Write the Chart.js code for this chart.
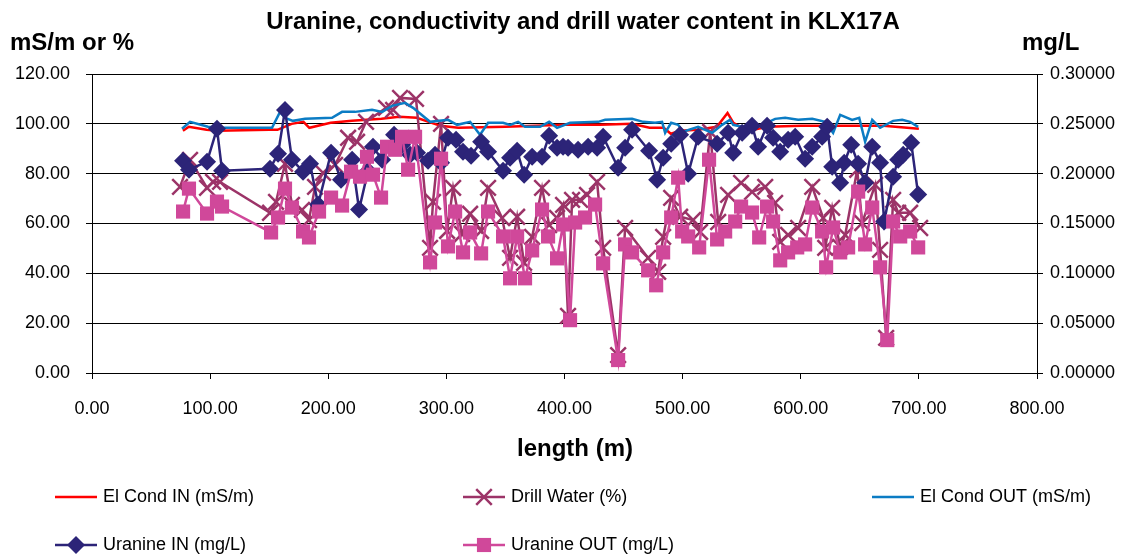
<!DOCTYPE html>
<html>
<head>
<meta charset="utf-8">
<title>Uranine, conductivity and drill water content in KLX17A</title>
<script src="https://cdn.jsdelivr.net/npm/chart.js@4.4.1/dist/chart.umd.min.js"></script>
<style>
    html, body { margin: 0; padding: 0; background: #fff; }
    #wrap { position: relative; width: 1127px; height: 556px; }
</style>
</head>
<body>
<div id="wrap"><canvas id="chart" width="1127" height="556"></canvas></div>
<script>
// ---------------- data ----------------
const chartTitle = 'Uranine, conductivity and drill water content in KLX17A';
const leftUnit = 'mS/m or %';
const rightUnit = 'mg/L';
const xTitle = 'length (m)';

const xTicks = [0, 100, 200, 300, 400, 500, 600, 700, 800];
const leftTicks = [0, 20, 40, 60, 80, 100, 120];
const rightTicks = [0, 0.05, 0.1, 0.15, 0.2, 0.25, 0.3];

// El Cond IN (mS/m)
const condInLen = [77, 82, 97, 106, 150, 157, 169, 179, 184, 202, 220, 245, 260, 275, 285, 295, 310, 350, 400, 430, 457, 472, 484, 490, 498, 513, 529, 538, 543, 550, 560, 572, 600, 640, 670, 700];
const condInVal = [97.2, 98.8, 97.6, 97.2, 97.6, 97.6, 100, 100.8, 98.4, 100.4, 101.2, 102, 102.8, 102.4, 100.8, 99.2, 98.4, 98.8, 99.6, 99.6, 100, 98.4, 98.4, 96, 97.2, 97.6, 98.8, 104.4, 100.4, 98.4, 97.6, 98.8, 99.2, 99.2, 99.2, 98];

// Drill Water (%)
const drillLen = [74.5, 83, 97.4, 102.5, 108.4, 150.7, 155.8, 163.4, 169.3, 177.8, 183.7, 188.8, 195.6, 205.8, 216.8, 224.4, 232, 248.9, 254.9, 260.8, 274.3, 286.2, 288.7, 295.5, 300.6, 305.7, 313.3, 320.1, 329.4, 335.3, 347.2, 353.9, 359.9, 365.8, 372.6, 381, 387, 393.7, 398.8, 403, 406.4, 413.2, 419.1, 427.6, 432.7, 445.4, 451.3, 470.8, 479.3, 483.5, 490.3, 497.9, 508.9, 514.8, 523.3, 530.1, 538.5, 549.5, 558.8, 569.9, 578.3, 582.6, 589.3, 597.8, 609.7, 619, 620.7, 626.6, 633.4, 637.6, 647.8, 652, 663, 667.2, 672.3, 678.2, 682.5, 692.6, 701.1];
const drillVal = [74.7, 85.5, 74.3, 76.7, 76.7, 64.3, 68.7, 83.9, 67.5, 65.5, 61.4, 74.7, 80.3, 83.5, 94.4, 92.8, 100.8, 106.4, 105.6, 110.4, 110, 50.2, 68.7, 100, 57, 74.3, 55.8, 63.9, 57, 74.3, 62.2, 46.2, 62.7, 44.2, 54.6, 74.3, 59.4, 62.2, 67.5, 22.9, 69.5, 69.5, 71.5, 76.7, 50.2, 7.2, 58.2, 46.2, 40.6, 54.6, 70.3, 62.7, 61.4, 56.6, 96.8, 60.6, 71.5, 76.3, 72.7, 74.7, 68.3, 52.6, 55.4, 58.2, 74.7, 62.2, 50.2, 66.3, 50.6, 55.4, 81.5, 60.2, 75.5, 49.4, 14.1, 69.5, 64.3, 64.3, 58.2];

// El Cond OUT (mS/m)
const condOutLen = [76.2, 83, 98.2, 105.8, 152.4, 159.2, 163.4, 170.2, 180.4, 203.2, 211.7, 222.7, 237.1, 245.6, 254, 265, 271.8, 286.2, 301.4, 309.1, 320.1, 328.5, 335.3, 348, 353.9, 360.7, 366.6, 379.3, 387, 393.7, 404.7, 428.5, 434.4, 457.2, 466.6, 476.7, 482.6, 485.2, 490.3, 496.2, 500.4, 513.1, 525, 533.4, 540.2, 542.8, 550.4, 563.9, 578.3, 586.8, 597.8, 609.7, 620.7, 627.4, 633.4, 643.5, 649.5, 654.5, 660.5, 667.2, 678.2, 685.9, 692.6, 699.4];
const condOutVal = [98, 100.8, 98.8, 98.4, 98.4, 104.8, 102.4, 101.2, 102, 102.4, 104.8, 104.8, 105.6, 104.8, 107.2, 108.4, 106.4, 100.8, 101.6, 99.6, 100.8, 95.6, 100.4, 100.4, 99.6, 100.8, 98.8, 98.8, 100.8, 98.4, 100.4, 100.8, 101.6, 102, 100.8, 100.4, 100.8, 96.4, 100.4, 99.6, 96.8, 98.8, 96.4, 99.6, 101.6, 99.6, 98.8, 98.8, 102, 102.4, 101.6, 102, 100.8, 96.4, 103.6, 101.6, 102.4, 92.8, 101.6, 98.4, 101.2, 101.6, 100.8, 98.8];

// Uranine IN (mg/L)
const uraInLen = [77.1, 82.1, 97.4, 105.8, 110.1, 150.7, 157.5, 163.4, 169.3, 178.7, 184.6, 191.4, 202.4, 210.8, 220.2, 226.1, 233.7, 237.9, 245.6, 255.7, 262.5, 269.3, 275.2, 284.5, 290.4, 295.5, 301.4, 308.2, 314.1, 320.9, 329.4, 335.3, 348, 353.9, 359.9, 365.8, 372.6, 381, 387, 393.7, 398.8, 403, 411.5, 420, 427.6, 432.7, 445.4, 451.3, 457.2, 471.6, 478.4, 483.5, 490.3, 497.9, 504.7, 513.1, 529.2, 538.5, 542.8, 550.4, 558.8, 563.9, 571.5, 576.6, 582.6, 589.3, 595.3, 603.7, 609.7, 618.1, 622.4, 626.6, 633.4, 636.8, 642.7, 648.6, 654.5, 660.5, 667.2, 670.6, 678.2, 682.5, 686.7, 693.5, 699.4];
const uraInVal = [0.213, 0.204, 0.212, 0.245, 0.203, 0.205, 0.220, 0.264, 0.214, 0.202, 0.210, 0.169, 0.221, 0.194, 0.214, 0.164, 0.203, 0.227, 0.214, 0.239, 0.229, 0.219, 0.221, 0.213, 0.219, 0.211, 0.236, 0.234, 0.222, 0.218, 0.232, 0.222, 0.203, 0.216, 0.223, 0.199, 0.217, 0.217, 0.238, 0.226, 0.227, 0.226, 0.224, 0.227, 0.226, 0.237, 0.206, 0.226, 0.244, 0.223, 0.194, 0.216, 0.230, 0.239, 0.200, 0.237, 0.230, 0.241, 0.221, 0.241, 0.248, 0.227, 0.248, 0.236, 0.222, 0.234, 0.237, 0.215, 0.227, 0.237, 0.247, 0.207, 0.191, 0.211, 0.229, 0.210, 0.191, 0.227, 0.211, 0.152, 0.197, 0.214, 0.219, 0.231, 0.179];

// Uranine OUT (mg/L)
const uraOutLen = [77.1, 82.1, 97.4, 105.8, 110.1, 151.6, 157.5, 163.4, 169.3, 178.7, 183.7, 192.2, 202.4, 211.7, 219.3, 226.9, 232.8, 237.9, 244.7, 249.8, 256.6, 262.5, 267.6, 273.5, 286.2, 290.4, 295.5, 301.4, 307.4, 314.1, 320.1, 329.4, 335.3, 348, 353.9, 359.9, 366.6, 372.6, 381, 386.1, 393.7, 398.8, 404.7, 409, 417.4, 425.9, 432.7, 445.4, 451.3, 457.2, 470.8, 477.6, 483.5, 490.3, 496.2, 499.6, 504.7, 514, 522.4, 529.2, 536, 544.5, 549.5, 558.8, 564.8, 571.5, 576.6, 582.6, 589.3, 597, 603.7, 609.7, 618.1, 621.5, 627.4, 633.4, 640.1, 648.6, 654.5, 660.5, 667.2, 673.2, 678.2, 684.2, 692.6, 699.4];
const uraOutVal = [0.162, 0.185, 0.160, 0.172, 0.167, 0.141, 0.156, 0.185, 0.166, 0.142, 0.136, 0.162, 0.176, 0.168, 0.202, 0.197, 0.217, 0.199, 0.176, 0.227, 0.224, 0.237, 0.204, 0.237, 0.111, 0.151, 0.215, 0.127, 0.162, 0.121, 0.141, 0.120, 0.162, 0.137, 0.095, 0.137, 0.095, 0.123, 0.164, 0.137, 0.115, 0.149, 0.053, 0.151, 0.156, 0.169, 0.110, 0.013, 0.129, 0.121, 0.103, 0.088, 0.121, 0.156, 0.196, 0.142, 0.137, 0.126, 0.214, 0.134, 0.142, 0.152, 0.167, 0.161, 0.136, 0.167, 0.152, 0.113, 0.121, 0.126, 0.129, 0.166, 0.142, 0.106, 0.146, 0.121, 0.126, 0.182, 0.129, 0.166, 0.106, 0.033, 0.152, 0.137, 0.142, 0.126];

// ---------------- chart ----------------
const FONT = "'Liberation Sans', Arial, sans-serif";
const C_RED = '#ff0000';
const C_BLUE = '#0b7cc4';
const C_DRILL = '#9c3468';
const C_NAVY = '#2c2478';
const C_PINK = '#d0489a';

function pts(xs, ys) {
    return xs.map((x, i) => ({ x: x, y: ys[i] }));
}

const datasets = [
    {
        label: 'El Cond IN (mS/m)', data: pts(condInLen, condInVal), yAxisID: 'y',
        borderColor: C_RED, backgroundColor: C_RED, borderWidth: 2.5, pointRadius: 0, order: 5
    },
    {
        label: 'Drill Water (%)', data: pts(drillLen, drillVal), yAxisID: 'y',
        borderColor: C_DRILL, backgroundColor: C_DRILL, borderWidth: 2.5,
        pointStyle: 'crossRot', pointRadius: 11, pointBorderWidth: 2.5, order: 4
    },
    {
        label: 'El Cond OUT (mS/m)', data: pts(condOutLen, condOutVal), yAxisID: 'y',
        borderColor: C_BLUE, backgroundColor: C_BLUE, borderWidth: 2.5, pointRadius: 0, order: 3
    },
    {
        label: 'Uranine IN (mg/L)', data: pts(uraInLen, uraInVal), yAxisID: 'y2',
        borderColor: C_NAVY, backgroundColor: C_NAVY, borderWidth: 2.5,
        pointStyle: 'rectRot', pointRadius: 9, pointBorderWidth: 0, order: 2
    },
    {
        label: 'Uranine OUT (mg/L)', data: pts(uraOutLen, uraOutVal), yAxisID: 'y2',
        borderColor: C_PINK, backgroundColor: C_PINK, borderWidth: 2.5,
        pointStyle: 'rect', pointRadius: 10, pointBorderWidth: 0, order: 1
    }
];

// legend slots: [dataset index, line start x, centre y]
const legendSlots = [
    [0, 55, 497], [1, 463, 497], [2, 872, 497],
    [3, 55, 545], [4, 463, 545]
];

const extraText = {
    id: 'extraText',
    afterDraw(chart) {
        const ctx = chart.ctx;
        ctx.save();
        ctx.fillStyle = '#000';
        ctx.textBaseline = 'middle';

        ctx.font = 'bold 24px ' + FONT;
        ctx.textAlign = 'center';
        ctx.fillText(chartTitle, 583, 22);
        ctx.fillText(xTitle, 575, 449);

        ctx.textAlign = 'left';
        ctx.fillText(leftUnit, 10, 43);
        ctx.fillText(rightUnit, 1022, 43);

        ctx.font = '18px ' + FONT;
        legendSlots.forEach(function (s) {
            const ds = chart.data.datasets[s[0]];
            const x0 = s[1], y = s[2], x1 = x0 + 42;
            ctx.strokeStyle = ds.borderColor;
            ctx.lineWidth = 2.5;
            ctx.beginPath();
            ctx.moveTo(x0, y);
            ctx.lineTo(x1, y);
            ctx.stroke();
            if (ds.pointRadius > 0) {
                ctx.fillStyle = ds.backgroundColor;
                ctx.strokeStyle = ds.borderColor;
                ctx.lineWidth = ds.pointBorderWidth || 0.01;
                Chart.helpers.drawPoint(ctx, {
                    pointStyle: ds.pointStyle, radius: ds.pointRadius, rotation: 0,
                    borderWidth: ds.pointBorderWidth
                }, (x0 + x1) / 2, y);
            }
            ctx.fillStyle = '#000';
            ctx.fillText(ds.label, x1 + 6, y);
        });
        ctx.restore();
    }
};

function fixTicks(list) {
    return function (scale) {
        scale.ticks = list.map(v => ({ value: v }));
    };
}

new Chart(document.getElementById('chart'), {
    type: 'line',
    data: { datasets: datasets },
    options: {
        responsive: false,
        animation: false,
        layout: { padding: { top: 74, right: 0, left: 0, bottom: 0 } },
        plugins: {
            legend: { display: false },
            title: { display: false },
            tooltip: { enabled: false }
        },
        scales: {
            x: {
                type: 'linear', min: 0, max: 800,
                afterBuildTicks: fixTicks(xTicks),
                afterFit: function (scale) { scale.height = 183; },
                border: { color: '#000', width: 1 },
                grid: { drawOnChartArea: false, tickLength: 6, tickColor: '#000' },
                ticks: {
                    color: '#000', font: { family: FONT, size: 18 }, padding: 19, maxRotation: 0,
                    callback: v => Number(v).toFixed(2)
                }
            },
            y: {
                position: 'left', min: 0, max: 120,
                afterBuildTicks: fixTicks(leftTicks),
                afterFit: function (scale) { scale.width = 92; },
                border: { color: '#000', width: 1 },
                grid: { color: '#000', lineWidth: 1, tickLength: 6, tickColor: '#000' },
                ticks: {
                    color: '#000', font: { family: FONT, size: 18 }, padding: 16,
                    callback: v => Number(v).toFixed(2)
                }
            },
            y2: {
                position: 'right', min: 0, max: 0.3,
                afterBuildTicks: fixTicks(rightTicks),
                afterFit: function (scale) { scale.width = 90; },
                border: { color: '#000', width: 1 },
                grid: { drawOnChartArea: false, tickLength: 6, tickColor: '#000' },
                ticks: {
                    color: '#000', font: { family: FONT, size: 18 }, padding: 7,
                    callback: v => Number(v).toFixed(5)
                }
            }
        }
    },
    plugins: [extraText]
});
</script>
</body>
</html>
